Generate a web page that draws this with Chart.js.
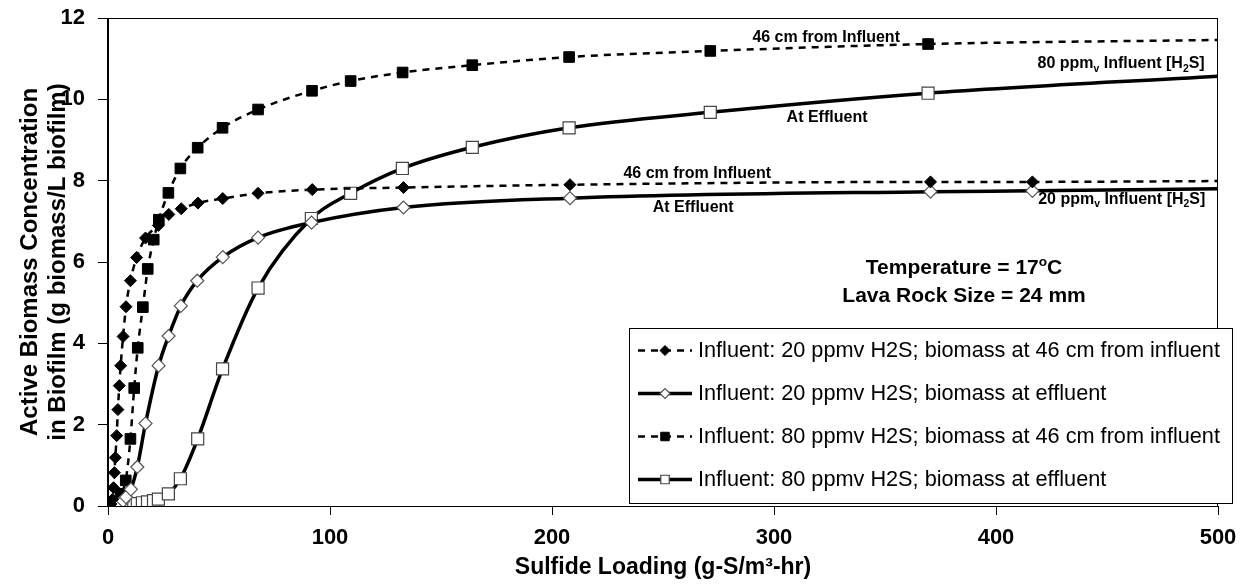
<!DOCTYPE html>
<html>
<head>
<meta charset="utf-8">
<script src="https://cdn.jsdelivr.net/npm/chart.js@4.4.1/dist/chart.umd.min.js"></script>
<style>
  html, body { margin: 0; padding: 0; background: #fff; }
  #wrap { width: 1244px; height: 588px; }
</style>
</head>
<body>
<div id="wrap"><canvas id="chart-biomass" width="1244" height="588"></canvas></div>
<script>
// Sulfide loading (g-S/m3-hr) vs active biomass (g biomass/L biofilm)

// 20 ppmv influent, biomass 46 cm from influent
const mid20X = [1.3, 1.95, 2.5, 2.9, 3.3, 3.9, 4.45, 5.1, 5.7, 6.8, 8.1, 10.1, 12.9, 16.9, 22.7, 27.4, 33.0, 40.5, 51.7, 67.6, 92.0, 133.1, 208.1, 370.5, 416.4, 500];
const mid20Y = [0.05, 0.16, 0.45, 0.82, 1.19, 1.73, 2.37, 2.96, 3.45, 4.17, 4.90, 5.54, 6.11, 6.59, 6.90, 7.17, 7.31, 7.45, 7.56, 7.69, 7.78, 7.83, 7.90, 7.97, 7.97, 7.99];

// 20 ppmv influent, biomass at effluent
const eff20X = [1.3, 2.9, 5.1, 6.8, 8.1, 10.3, 13.2, 16.9, 22.8, 27.3, 32.8, 40.2, 51.7, 67.6, 91.7, 133.1, 208.1, 370.5, 416.4, 500];
const eff20Y = [0.0, 0.02, 0.06, 0.12, 0.22, 0.41, 0.96, 2.03, 3.45, 4.18, 4.92, 5.54, 6.12, 6.60, 6.97, 7.34, 7.57, 7.73, 7.75, 7.80];

// 80 ppmv influent, biomass 46 cm from influent
const mid80X = [3.9, 5.6, 8.0, 10.1, 11.8, 13.4, 15.7, 17.9, 20.6, 22.9, 27.2, 32.6, 40.4, 51.6, 67.6, 91.9, 109.3, 132.7, 164.1, 207.7, 271.3, 369.4, 500];
const mid80Y = [0.10, 0.30, 0.63, 1.65, 2.90, 3.89, 4.89, 5.83, 6.55, 7.04, 7.70, 8.30, 8.81, 9.30, 9.75, 10.21, 10.45, 10.66, 10.84, 11.04, 11.19, 11.36, 11.46];

// 80 ppmv influent, biomass at effluent
const eff80X = [3.0, 5.1, 7.8, 9.9, 11.6, 13.2, 15.5, 17.8, 20.5, 22.7, 27.2, 32.6, 40.4, 51.6, 67.6, 91.6, 109.3, 132.6, 164.1, 207.7, 271.3, 369.4, 500];
const eff80Y = [0.0, 0.01, 0.02, 0.04, 0.05, 0.06, 0.08, 0.10, 0.13, 0.17, 0.30, 0.67, 1.65, 3.37, 5.36, 7.07, 7.69, 8.30, 8.82, 9.30, 9.68, 10.15, 10.57];

const seriesLabels = [
  'Influent: 20 ppmv H2S; biomass at 46 cm from influent',
  'Influent: 20 ppmv H2S; biomass at effluent',
  'Influent: 80 ppmv H2S; biomass at 46 cm from influent',
  'Influent: 80 ppmv H2S; biomass at effluent',
];

const xTicks = [0, 100, 200, 300, 400, 500];
const yTicks = [0, 2, 4, 6, 8, 10, 12];

const FONT = "'Liberation Sans', Arial, Helvetica, sans-serif";

const toPoints = (xs, ys) => xs.map((x, i) => ({ x, y: ys[i] }));
// the model curves run on to 500 without a marker on the last point
const radii = (xs, r) => xs.map((x) => (x >= 500 ? 0 : r));

const dashed = [7, 6];

const datasets = [
  {
    label: seriesLabels[0],
    data: toPoints(mid20X, mid20Y),
    borderColor: '#000',
    borderWidth: 2.5,
    borderDash: dashed,
    pointStyle: 'rectRot',
    pointRadius: radii(mid20X, 6),
    pointBackgroundColor: '#000',
    pointBorderColor: '#000',
    pointBorderWidth: 1,
  },
  {
    label: seriesLabels[1],
    data: toPoints(eff20X, eff20Y),
    borderColor: '#000',
    borderWidth: 3.5,
    borderDash: [],
    pointStyle: 'rectRot',
    pointRadius: radii(eff20X, 6.5),
    pointBackgroundColor: '#fff',
    pointBorderColor: '#555',
    pointBorderWidth: 1.2,
  },
  {
    label: seriesLabels[2],
    data: toPoints(mid80X, mid80Y),
    borderColor: '#000',
    borderWidth: 2.5,
    borderDash: dashed,
    pointStyle: 'rect',
    pointRadius: radii(mid80X, 7.5),
    pointBackgroundColor: '#000',
    pointBorderColor: '#000',
    pointBorderWidth: 1,
  },
  {
    label: seriesLabels[3],
    data: toPoints(eff80X, eff80Y),
    borderColor: '#000',
    borderWidth: 3.5,
    borderDash: [],
    pointStyle: 'rect',
    pointRadius: radii(eff80X, 8.5),
    pointBackgroundColor: '#fff',
    pointBorderColor: '#444',
    pointBorderWidth: 1.2,
  },
];

// text pieces: [string, shift] with shift 1 = subscript, -1 = superscript
const notes = [
  { parts: [['46 cm from Influent', 0]], x: 323.5, y: 11.55, align: 'center', size: 16 },
  { parts: [['80 ppm', 0], ['v', 1], [' Influent [H', 0], ['2', 1], ['S]', 0]], x: 494, y: 10.9, align: 'right', size: 16 },
  { parts: [['At Effluent', 0]], x: 323.9, y: 9.58, align: 'center', size: 16 },
  { parts: [['46 cm from Influent', 0]], x: 265.4, y: 8.21, align: 'center', size: 16 },
  { parts: [['At Effluent', 0]], x: 263.6, y: 7.37, align: 'center', size: 16 },
  { parts: [['20 ppm', 0], ['v', 1], [' Influent [H', 0], ['2', 1], ['S]', 0]], x: 419, y: 7.58, align: 'left', size: 16 },
  { parts: [['Temperature = 17', 0], ['o', -1], ['C', 0]], x: 385.6, y: 5.88, align: 'center', size: 21 },
  { parts: [['Lava Rock Size = 24 mm', 0]], x: 385.6, y: 5.2, align: 'center', size: 21 },
];

const drawRich = (ctx, parts, x, yMid, size, align, weight) => {
  const fontFor = (s) => `${weight} ${s}px ${FONT}`;
  const sizeOf = (shift) => (shift ? size * 0.65 : size);
  let total = 0;
  parts.forEach(([t, s]) => {
    ctx.font = fontFor(sizeOf(s));
    total += ctx.measureText(t).width;
  });
  let cx = align === 'center' ? x - total / 2 : align === 'right' ? x - total : x;
  const base = yMid + size * 0.36;
  ctx.textAlign = 'left';
  ctx.textBaseline = 'alphabetic';
  parts.forEach(([t, s]) => {
    ctx.font = fontFor(sizeOf(s));
    const dy = s === 1 ? size * 0.22 : s === -1 ? -size * 0.42 : 0;
    ctx.fillText(t, cx, base + dy);
    cx += ctx.measureText(t).width;
  });
};

const legendBox = { left: 629, top: 328, right: 1232, bottom: 503, rowGap: 43, sample: 54 };

const extras = {
  id: 'extras',
  afterDraw(chart) {
    const { ctx, chartArea: a, scales } = chart;
    ctx.save();
    ctx.fillStyle = '#000';

    // plot frame
    ctx.strokeStyle = '#000';
    ctx.lineWidth = 1;
    ctx.strokeRect(Math.round(a.left) - 0.5, Math.round(a.top) + 0.5, Math.round(a.right - a.left), Math.round(a.bottom - a.top));

    // curve labels and test conditions
    notes.forEach((n) => {
      drawRich(ctx, n.parts, scales.x.getPixelForValue(n.x), scales.y.getPixelForValue(n.y), n.size, n.align, 'bold');
    });

    // legend
    const L = legendBox;
    ctx.fillStyle = '#fff';
    ctx.fillRect(L.left, L.top, L.right - L.left, L.bottom - L.top);
    ctx.strokeStyle = '#000';
    ctx.lineWidth = 1;
    ctx.strokeRect(L.left + 0.5, L.top + 0.5, L.right - L.left, L.bottom - L.top);

    chart.data.datasets.forEach((ds, i) => {
      const yRow = L.top + 22.5 + i * L.rowGap;
      const x0 = L.left + 9;
      const x1 = x0 + L.sample;
      ctx.save();
      ctx.strokeStyle = ds.borderColor;
      ctx.lineWidth = ds.borderWidth;
      ctx.setLineDash(ds.borderDash);
      ctx.beginPath();
      ctx.moveTo(x0, yRow);
      ctx.lineTo(x1, yRow);
      ctx.stroke();
      ctx.restore();
      ctx.save();
      ctx.fillStyle = ds.pointBackgroundColor;
      ctx.strokeStyle = ds.pointBorderColor;
      ctx.lineWidth = ds.pointBorderWidth;
      Chart.helpers.drawPoint(ctx, {
        pointStyle: ds.pointStyle,
        radius: ds.pointStyle === 'rect' ? 6 : 5,
        rotation: 0,
        borderWidth: ds.pointBorderWidth,
      }, (x0 + x1) / 2, yRow);
      ctx.restore();
      ctx.fillStyle = '#000';
      ctx.font = `21.7px ${FONT}`;
      ctx.textAlign = 'left';
      ctx.textBaseline = 'middle';
      ctx.fillText(ds.label, x1 + 6, yRow + 1);
    });

    ctx.restore();
  },
};

const ctx = document.getElementById('chart-biomass').getContext('2d');

new Chart(ctx, {
  type: 'scatter',
  data: { datasets },
  plugins: [extras],
  options: {
    responsive: false,
    animation: false,
    devicePixelRatio: 1,
    layout: { padding: { top: 18, right: 26, bottom: 0, left: 0 } },
    datasets: {
      scatter: {
        showLine: true,
        cubicInterpolationMode: 'monotone',
      },
    },
    plugins: {
      legend: { display: false },
      tooltip: { enabled: false },
    },
    scales: {
      x: {
        type: 'linear',
        min: 0,
        max: 500,
        afterFit: (scale) => {
          scale.height = 82;
          scale.paddingLeft = 0;
          scale.paddingRight = 0;
        },
        afterBuildTicks: (scale) => { scale.ticks = xTicks.map((value) => ({ value })); },
        ticks: {
          color: '#000',
          font: { family: FONT, size: 22, weight: 'bold' },
          padding: 10,
          maxRotation: 0,
        },
        grid: { display: true, drawOnChartArea: false, drawTicks: true, tickLength: 9, color: '#000' },
        border: { display: true, color: '#000', width: 1 },
        title: {
          display: true,
          text: 'Sulfide Loading (g-S/m\u00b3-hr)',
          color: '#000',
          font: { family: FONT, size: 23, weight: 'bold' },
          padding: { top: 0, bottom: 7 },
        },
      },
      y: {
        type: 'linear',
        min: 0,
        max: 12,
        afterFit: (scale) => {
          scale.width = 108;
          scale.paddingTop = 0;
          scale.paddingBottom = 0;
        },
        afterBuildTicks: (scale) => { scale.ticks = yTicks.map((value) => ({ value })); },
        ticks: {
          color: '#000',
          font: { family: FONT, size: 22, weight: 'bold' },
          padding: 13,
        },
        grid: { display: true, drawOnChartArea: false, drawTicks: true, tickLength: 10, color: '#000' },
        border: { display: true, color: '#000', width: 1 },
        title: {
          display: true,
          text: ['Active Biomass Concentration', 'in Biofilm (g biomass/L biofilm)'],
          color: '#000',
          font: { family: FONT, size: 24, weight: 'bold', lineHeight: 1.17 },
          padding: { top: 16, bottom: 0 },
        },
      },
    },
  },
});
</script>
</body>
</html>
